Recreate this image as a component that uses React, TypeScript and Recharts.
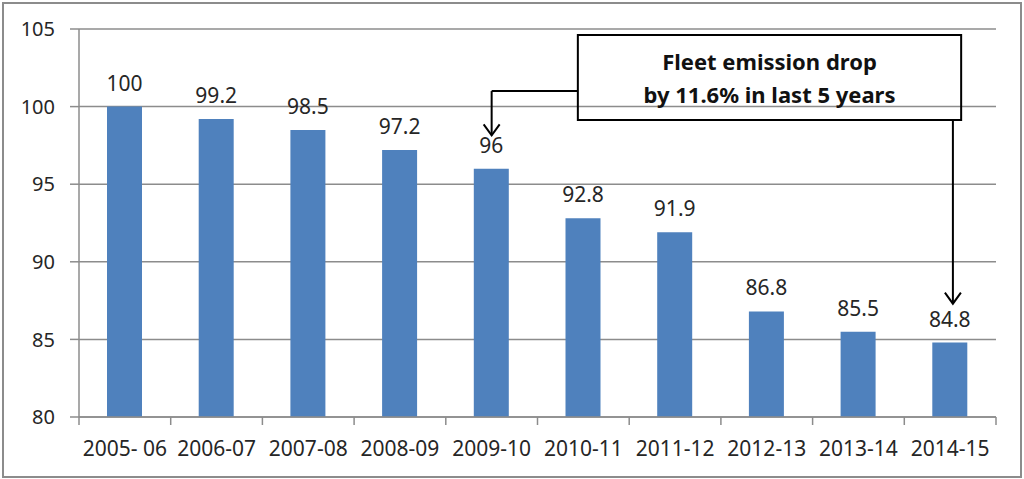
import React from 'react';
import {
  BarChart,
  Bar,
  XAxis,
  YAxis,
  CartesianGrid,
  LabelList,
  ReferenceArea,
  ReferenceLine,
  ReferenceDot,
} from 'recharts';

const years = [
  '2005- 06',
  '2006-07',
  '2007-08',
  '2008-09',
  '2009-10',
  '2010-11',
  '2011-12',
  '2012-13',
  '2013-14',
  '2014-15',
];
const emissionIndex = [100, 99.2, 98.5, 97.2, 96, 92.8, 91.9, 86.8, 85.5, 84.8];
const yTicks = [80, 85, 90, 95, 100, 105];
const noteLines = ['Fleet emission drop', 'by 11.6% in last 5 years'];

// pos = centre of each category on a 0..10 helper axis (used for the annotation)
const data = years.map((name, i) => ({ name, value: emissionIndex[i], pos: i + 0.5 }));

const FONT = '"Noto Sans", "Open Sans", sans-serif';
const GRID = '#8c8c8c';
const INK = '#262626';

const ArrowDown = (props: any) => {
  const { cx, cy } = props;
  return (
    <path
      d={`M${cx - 8},${cy - 11} L${cx},${cy} L${cx + 8},${cy - 11}`}
      fill="none"
      stroke="#000"
      strokeWidth={2}
    />
  );
};

const NoteLabel = (props: any) => {
  const vb = props.viewBox || {};
  const cx = vb.x + vb.width / 2;
  const cy = vb.y + vb.height / 2;
  return (
    <g>
      {noteLines.map((t, i) => (
        <text
          key={t}
          x={cx}
          y={cy + (i - 0.5) * 33}
          textAnchor="middle"
          dominantBaseline="central"
          fontFamily={FONT}
          fontWeight="bold"
          fontSize={22}
          fill="#111"
        >
          {t}
        </text>
      ))}
    </g>
  );
};

// category label plus tick marks at the band boundaries (Excel style)
const YearTick = (props: any) => {
  const { x, y, payload, index, width, visibleTicksCount } = props;
  const band = width / visibleTicksCount;
  const axisY = y;
  return (
    <g>
      <line x1={x + band / 2} y1={axisY} x2={x + band / 2} y2={axisY + 8} stroke={GRID} strokeWidth={1.5} />
      {index === 0 && (
        <line x1={x - band / 2} y1={axisY} x2={x - band / 2} y2={axisY + 8} stroke={GRID} strokeWidth={1.5} />
      )}
      <text
        x={x}
        y={axisY + 31}
        textAnchor="middle"
        dominantBaseline="central"
        fill={INK}
        fontSize={21}
        fontFamily={FONT}
      >
        {payload.value}
      </text>
    </g>
  );
};

export default function App() {
  return (
    <div style={{ position: 'absolute', left: 0, top: 0, width: 1024, height: 479, background: '#fff' }}>
      <div
        style={{
          position: 'absolute',
          left: 2,
          top: 2,
          width: 1020,
          height: 476,
          boxSizing: 'border-box',
          border: `2px solid ${GRID}`,
        }}
      />
      <div style={{ position: 'absolute', left: 0, top: 0 }}>
        <BarChart
          width={1024}
          height={479}
          data={data}
          margin={{ top: 29, right: 28, bottom: 0, left: 0 }}
        >
          <CartesianGrid vertical={false} stroke={GRID} strokeWidth={1.5} />
          <XAxis
            dataKey="name"
            height={62}
            tickLine={false}
            axisLine={{ stroke: GRID, strokeWidth: 1.5 }}
            tickSize={0}
            tickMargin={0}
            interval={0}
            tick={<YearTick />}
          />
          <XAxis
            xAxisId="n"
            dataKey="pos"
            type="number"
            domain={[0, 10]}
            allowDataOverflow
            hide
          />
          <YAxis
            width={79}
            domain={[80, 105]}
            ticks={yTicks}
            interval={0}
            tickSize={9}
            tickMargin={15}
            tickLine={{ stroke: GRID, strokeWidth: 1.5 }}
            axisLine={{ stroke: GRID, strokeWidth: 1.5 }}
            tick={{ fill: INK, fontSize: 20, fontFamily: FONT }}
          />
          <Bar dataKey="value" fill="#4f81bd" barSize={35} isAnimationActive={false}>
            <LabelList
              dataKey="value"
              position="top"
              offset={16}
              fill={INK}
              fontSize={21}
              fontFamily={FONT}
            />
          </Bar>
          <ReferenceArea
            xAxisId="n"
            x1={5.44}
            x2={9.62}
            y1={99.13}
            y2={104.62}
            fill="none"
            fillOpacity={0}
            stroke="#000"
            strokeWidth={2}
            ifOverflow="visible"
            label={(p: any) => <NoteLabel {...p} />}
          />
          <ReferenceLine
            xAxisId="n"
            ifOverflow="visible"
            stroke="#000"
            strokeWidth={2}
            segment={[
              { x: 5.44, y: 101 },
              { x: 4.5, y: 101 },
            ]}
          />
          <ReferenceLine
            xAxisId="n"
            ifOverflow="visible"
            stroke="#000"
            strokeWidth={2}
            segment={[
              { x: 4.5, y: 101 },
              { x: 4.5, y: 98.15 },
            ]}
          />
          <ReferenceLine
            xAxisId="n"
            ifOverflow="visible"
            stroke="#000"
            strokeWidth={2}
            segment={[
              { x: 9.53, y: 99.13 },
              { x: 9.53, y: 87.3 },
            ]}
          />
          <ReferenceDot xAxisId="n" x={4.5} y={98.15} r={1} ifOverflow="visible" shape={ArrowDown} />
          <ReferenceDot xAxisId="n" x={9.53} y={87.3} r={1} ifOverflow="visible" shape={ArrowDown} />
        </BarChart>
      </div>
    </div>
  );
}
